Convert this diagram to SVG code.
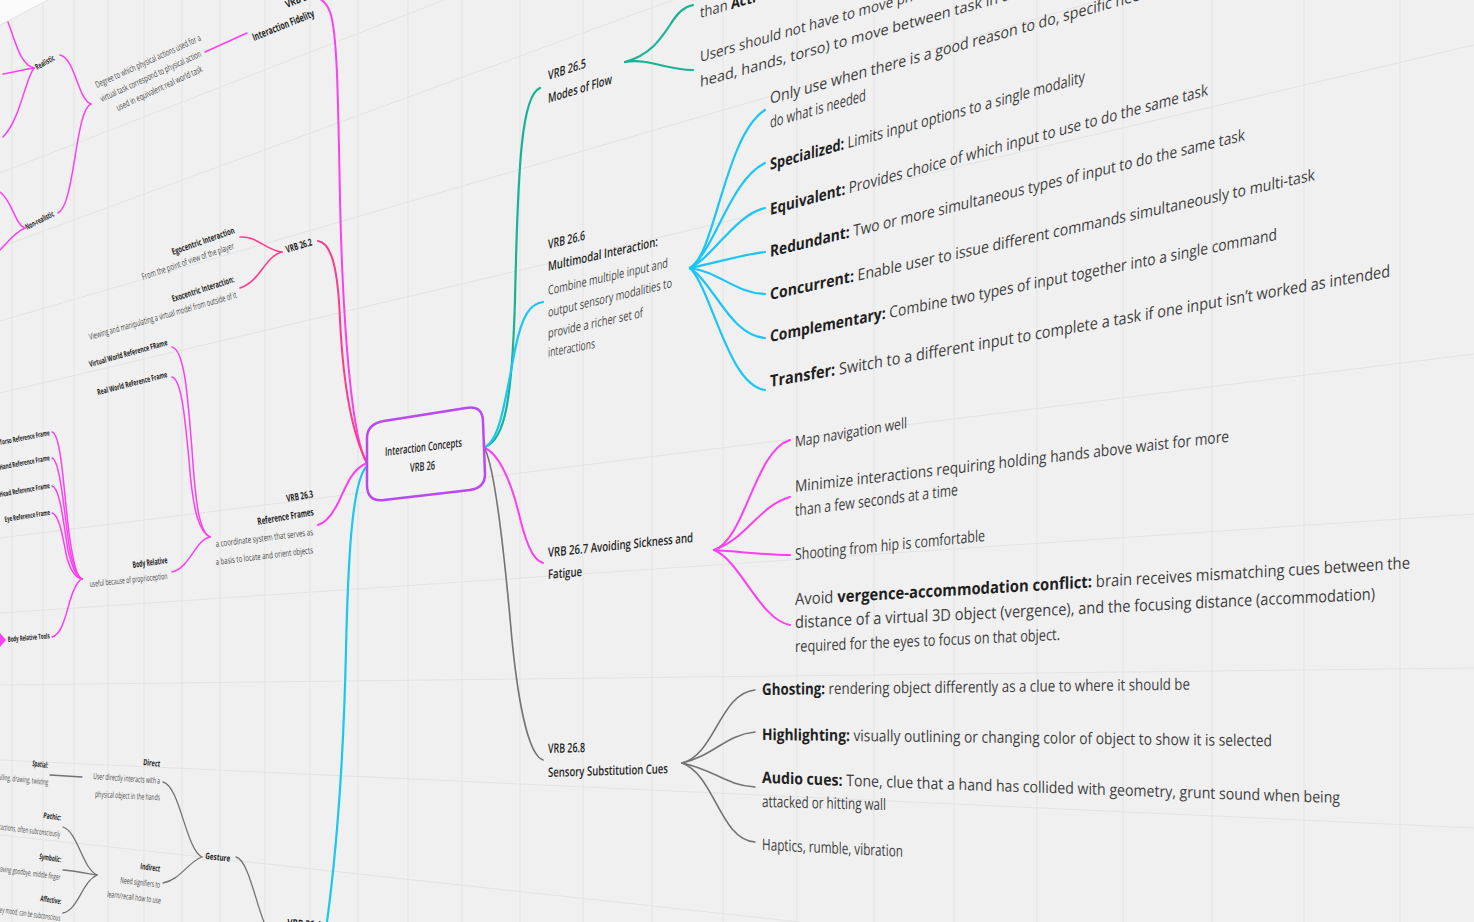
<svg xmlns="http://www.w3.org/2000/svg" width="1474" height="922" viewBox="0 0 1474 922">
<defs>
<style>
text{font-family:"Open Sans","Noto Sans","DejaVu Sans",sans-serif;fill:#3e3e3e}
.b{font-weight:700;fill:#1f1f1f}
.s{font-weight:600;fill:#262626}
.d{fill:#4a4a4a}
.c{fill:none;stroke-linecap:round;stroke-linejoin:round}
.teal{stroke:#17b394;stroke-width:2.2}
.cyan{stroke:#1cc6f2;stroke-width:2.2}
.mag{stroke:#fb40f0;stroke-width:2}
.magt{stroke:#fb40f0;stroke-width:1.5}
.pink{stroke:#ff3a8c;stroke-width:2}
.gry{stroke:#737373;stroke-width:1.6}
.gryt{stroke:#737373;stroke-width:1.3}
.grid{stroke:#e3e3e3;stroke-width:1;fill:none}
</style>
</defs>
<rect x="0" y="0" width="1474" height="922" fill="#f0f0f0"/>
<polygon points="0,0 48,0 0,25" fill="#fbfbfb"/>
<g id="grid" class="grid">
<path d="M12,19V922M43,3V922M74,0V922M108,0V922M144,0V922M182,0V922M220,0V922M265,0V922M310,0V922M358,0V922M408,0V922M462,0V922M520,0V922M583,0V922M652,0V922M723,0V922M797,0V922M874,0V922M954,0V922M1037,0V922M1123,0V922M1212,0V922M1304,0V922M1400,0V922"/>
<path d="M0,25L48,0M0,173L444,0M0,247L700,-10M0,321L1474,-109M0,393L1474,45M0,538L1474,354M0,613L1474,514M0,685L1474,668M0,760L1474,828M0,835L800,922"/>
</g>
<g id="connectors">
<path class="c teal" d="M485,447 C505,440 512,400 515,300 C518,160 522,95 540,88"/>
<path class="c cyan" d="M485,447 C500,440 505,400 515,350 C522,315 530,304 543,302"/>
<path class="c mag" d="M485,448 C500,455 510,480 518,510 C525,540 532,560 543,563"/>
<path class="c gry" d="M485,449 C495,470 505,560 512,640 C518,700 528,755 543,760"/>
<path class="c mag" d="M367,463 C352,440 343,330 340,200 C338,90 337,30 330,12 C327,4 323,0 318,-2"/>
<path class="c pink" d="M367,463 C350,430 343,380 340,320 C338,270 332,243 318,241"/>
<path class="c mag" d="M367,463 C350,470 345,490 338,503 C332,515 325,523 318,525"/>
<path class="c cyan" d="M367,466 C352,480 348,560 346,650 C344,740 338,840 327,922"/>
<path class="c teal" d="M625,62 C650,55 660,40 670,25 C678,12 684,7 693,5"/>
<path class="c teal" d="M625,62 C650,58 665,70 693,70"/>
<path class="c cyan" d="M690,268 C715,255 725,135 765,110"/>
<path class="c cyan" d="M690,268 C715,250 730,180 765,163"/>
<path class="c cyan" d="M690,268 C715,255 735,215 765,208"/>
<path class="c cyan" d="M690,268 C720,262 740,255 765,252"/>
<path class="c cyan" d="M690,268 C720,272 735,293 765,294"/>
<path class="c cyan" d="M690,268 C715,285 730,335 765,338"/>
<path class="c cyan" d="M690,268 C712,290 728,385 765,390"/>
<path class="c mag" d="M714,550 C745,540 755,450 790,440"/>
<path class="c mag" d="M714,550 C745,540 760,505 790,497"/>
<path class="c mag" d="M714,550 C745,552 765,555 790,555"/>
<path class="c mag" d="M714,550 C740,560 760,620 790,625"/>
<path class="c gry" d="M682,763 C715,755 720,693 755,690"/>
<path class="c gry" d="M682,763 C715,755 725,735 755,732"/>
<path class="c gry" d="M682,763 C715,770 725,785 755,787"/>
<path class="c gry" d="M682,763 C715,775 720,840 755,842"/>
<path class="c magt" d="M205,52 L247,33"/>
<path class="c magt" d="M60,55 C75,58 78,100 91,104"/>
<path class="c magt" d="M58,213 C75,205 75,110 91,104"/>
<path class="c magt" d="M8,22 C15,40 20,65 34,68"/>
<path class="c magt" d="M3,74 C15,72 25,69 34,68"/>
<path class="c magt" d="M3,137 C20,120 25,80 34,68"/>
<path class="c magt" d="M0,192 C12,200 15,225 25,228"/>
<path class="c magt" d="M25,228 C15,232 8,242 0,250"/>
<path class="c pink" style="stroke-width:1.6" d="M240,237 C258,236 265,250 282,252"/>
<path class="c pink" style="stroke-width:1.6" d="M240,288 C260,282 265,256 282,252"/>
<path class="c magt" d="M172,347 C185,350 188,400 192,450 C196,510 200,532 210,537"/>
<path class="c magt" d="M172,377 C182,380 185,420 189,460 C193,515 200,532 210,537"/>
<path class="c magt" d="M172,572 C190,568 195,540 210,537"/>
<path class="c magt" d="M52,432 C62,434 64,500 70,540 C74,565 77,577 82,579"/>
<path class="c magt" d="M52,458 C60,460 64,510 69,545 C73,567 77,577 82,579"/>
<path class="c magt" d="M52,486 C60,488 63,520 68,550 C72,568 77,577 82,579"/>
<path class="c magt" d="M52,513 C60,515 63,540 67,558 C71,572 77,578 82,579"/>
<path class="c magt" d="M52,637 C65,634 68,600 74,590 C77,583 79,580 82,579"/>
<path class="c gryt" d="M236,857 C248,860 255,900 264,922"/>
<path class="c gryt" d="M163,782 C180,786 186,850 202,857"/>
<path class="c gryt" d="M163,883 C180,880 188,862 202,857"/>
<path class="c gryt" d="M63,827 C78,832 82,868 97,875"/>
<path class="c gryt" d="M63,870 C75,871 85,873 97,875"/>
<path class="c gryt" d="M63,913 C78,910 82,882 97,875"/>
<path class="c gryt" d="M50,775 L82,777"/>
<polygon points="0,633 6,640 0,647" fill="#fb40f0"/>
</g>
<g id="node-center">
<path d="M384,421 L466,408 Q483,405 483,422 L485,474 Q485,488 470,490 L384,500 Q367,502 367,485 L367,438 Q367,424 384,421 Z" fill="#f2f2f2" stroke="#bb48f0" stroke-width="2.5"/>
<text class="s" font-size="12" transform="translate(385,456) skewY(-7)" textLength="77" lengthAdjust="spacingAndGlyphs">Interaction Concepts</text>
<text class="s" font-size="12" transform="translate(410,472) skewY(-6)" textLength="25" lengthAdjust="spacingAndGlyphs">VRB 26</text>
</g>
<g id="node-vrb-26-5">
<text class="s" font-size="13" transform="translate(548,80) skewY(-18)" textLength="38" lengthAdjust="spacingAndGlyphs">VRB 26.5</text>
<text class="s" font-size="13" transform="translate(548,103) skewY(-17)" textLength="64" lengthAdjust="spacingAndGlyphs">Modes of Flow</text>
<text font-size="15" transform="translate(700,18) skewY(-16)" textLength="56" lengthAdjust="spacingAndGlyphs">than <tspan class="b">Acti</tspan></text>
<text font-size="15" transform="translate(700,62) skewY(-16)" textLength="213" lengthAdjust="spacingAndGlyphs">Users should not have to move ph</text>
<text font-size="15" transform="translate(700,87) skewY(-15.7)" textLength="310" lengthAdjust="spacingAndGlyphs">head, hands, torso) to move between task in a</text>
</g>
<g id="node-vrb-26-6">
<text class="s" font-size="13" transform="translate(548,249) skewY(-14)" textLength="37" lengthAdjust="spacingAndGlyphs">VRB 26.6</text>
<text class="s" font-size="13" transform="translate(548,271) skewY(-12.8)" textLength="110" lengthAdjust="spacingAndGlyphs">Multimodal Interaction:</text>
<text class="d" font-size="13" transform="translate(548,295) skewY(-13)" textLength="120" lengthAdjust="spacingAndGlyphs">Combine multiple input and</text>
<text class="d" font-size="13" transform="translate(548,317) skewY(-13.5)" textLength="124" lengthAdjust="spacingAndGlyphs">output sensory modalities to</text>
<text class="d" font-size="13" transform="translate(548,338) skewY(-12.5)" textLength="95" lengthAdjust="spacingAndGlyphs">provide a richer set of</text>
<text class="d" font-size="13" transform="translate(548,357) skewY(-11)" textLength="47" lengthAdjust="spacingAndGlyphs">interactions</text>
<text font-size="16" transform="translate(770,104) skewY(-15.7)" textLength="370" lengthAdjust="spacingAndGlyphs">Only use when there is a good reason to do, specific nee</text>
<text font-size="16" transform="translate(770,128) skewY(-16)" textLength="96" lengthAdjust="spacingAndGlyphs">do what is needed</text>
<text font-size="16" transform="translate(770,170) skewY(-15.6)" textLength="315" lengthAdjust="spacingAndGlyphs"><tspan class="b">Specialized:</tspan> Limits input options to a single modality</text>
<text font-size="16" transform="translate(770,215) skewY(-15.3)" textLength="438" lengthAdjust="spacingAndGlyphs"><tspan class="b">Equivalent:</tspan> Provides choice of which input to use to do the same task</text>
<text font-size="16" transform="translate(770,257) skewY(-13.8)" textLength="475" lengthAdjust="spacingAndGlyphs"><tspan class="b">Redundant:</tspan> Two or more simultaneous types of input to do the same task</text>
<text font-size="16" transform="translate(770,300) skewY(-12.4)" textLength="545" lengthAdjust="spacingAndGlyphs"><tspan class="b">Concurrent:</tspan> Enable user to issue different commands simultaneously to multi-task</text>
<text font-size="16" transform="translate(770,342) skewY(-11.4)" textLength="507" lengthAdjust="spacingAndGlyphs"><tspan class="b">Complementary:</tspan> Combine two types of input together into a single command</text>
<text font-size="16.5" transform="translate(770,387) skewY(-10.1)" textLength="620" lengthAdjust="spacingAndGlyphs"><tspan class="b">Transfer:</tspan> Switch to a different input to complete a task if one input isn’t worked as intended</text>
</g>
<g id="node-vrb-26-7">
<text class="s" font-size="13" transform="translate(548,557) skewY(-5.9)" textLength="145" lengthAdjust="spacingAndGlyphs">VRB 26.7 Avoiding Sickness and</text>
<text class="s" font-size="13" transform="translate(548,579) skewY(-5)" textLength="34" lengthAdjust="spacingAndGlyphs">Fatigue</text>
<text font-size="15" transform="translate(795,447) skewY(-9.6)" textLength="112" lengthAdjust="spacingAndGlyphs">Map navigation well</text>
<text font-size="16" transform="translate(795,492) skewY(-6.6)" textLength="434" lengthAdjust="spacingAndGlyphs">Minimize interactions requiring holding hands above waist for more</text>
<text font-size="16" transform="translate(795,516) skewY(-7.3)" textLength="163" lengthAdjust="spacingAndGlyphs">than a few seconds at a time</text>
<text font-size="16" transform="translate(795,560) skewY(-5.7)" textLength="190" lengthAdjust="spacingAndGlyphs">Shooting from hip is comfortable</text>
<text font-size="16.5" transform="translate(795,605) skewY(-3.4)" textLength="615" lengthAdjust="spacingAndGlyphs">Avoid <tspan class="b">vergence-accommodation conflict:</tspan> brain receives mismatching cues between the</text>
<text font-size="16.5" transform="translate(795,628) skewY(-2.8)" textLength="580" lengthAdjust="spacingAndGlyphs">distance of a virtual 3D object (vergence), and the focusing distance (accommodation)</text>
<text font-size="16" transform="translate(795,652) skewY(-2.6)" textLength="265" lengthAdjust="spacingAndGlyphs">required for the eyes to focus on that object.</text>
</g>
<g id="node-vrb-26-8">
<text class="s" font-size="13" transform="translate(548,753) skewY(-1.5)" textLength="37" lengthAdjust="spacingAndGlyphs">VRB 26.8</text>
<text class="s" font-size="13" transform="translate(548,777) skewY(-1.8)" textLength="120" lengthAdjust="spacingAndGlyphs">Sensory Substitution Cues</text>
<text font-size="16" transform="translate(762,695) skewY(-0.7)" textLength="428" lengthAdjust="spacingAndGlyphs"><tspan class="b">Ghosting:</tspan> rendering object differently as a clue to where it should be</text>
<text font-size="16" transform="translate(762,740) skewY(0.7)" textLength="510" lengthAdjust="spacingAndGlyphs"><tspan class="b">Highlighting:</tspan> visually outlining or changing color of object to show it is selected</text>
<text font-size="16" transform="translate(762,783) skewY(2)" textLength="578" lengthAdjust="spacingAndGlyphs"><tspan class="b">Audio cues:</tspan> Tone, clue that a hand has collided with geometry, grunt sound when being</text>
<text font-size="16" transform="translate(762,807) skewY(1.4)" textLength="124" lengthAdjust="spacingAndGlyphs">attacked or hitting wall</text>
<text font-size="16" transform="translate(762,850) skewY(2.8)" textLength="141" lengthAdjust="spacingAndGlyphs">Haptics, rumble, vibration</text>
</g>
<g id="node-vrb-26-1">
<text class="b" font-size="10" transform="translate(287,8) rotate(-22)" textLength="34" lengthAdjust="spacingAndGlyphs">VRB 26.1</text>
<text class="b" font-size="10.5" transform="translate(254,41) rotate(-22)" textLength="66" lengthAdjust="spacingAndGlyphs">Interaction Fidelity</text>
<text class="d" font-size="9" transform="translate(97,88) rotate(-24.6)" textLength="115" lengthAdjust="spacingAndGlyphs">Degree to which physical actions used for a</text>
<text class="d" font-size="9" transform="translate(102,102) rotate(-24.7)" textLength="110" lengthAdjust="spacingAndGlyphs">virtual task correspond to physical action</text>
<text class="d" font-size="9" transform="translate(118,111) rotate(-25)" textLength="94" lengthAdjust="spacingAndGlyphs">used in equivalent real world task</text>
<text class="b" font-size="8" transform="translate(37,70) rotate(-29)" textLength="21" lengthAdjust="spacingAndGlyphs">Realistic</text>
<text class="b" font-size="8" transform="translate(27,230) rotate(-27)" textLength="31" lengthAdjust="spacingAndGlyphs">Non-realistic</text>
</g>
<g id="node-vrb-26-2">
<text class="b" font-size="10" transform="translate(287,253) rotate(-17)" textLength="27" lengthAdjust="spacingAndGlyphs">VRB 26.2</text>
<text class="b" font-size="9" transform="translate(173,255) rotate(-19.5)" textLength="66" lengthAdjust="spacingAndGlyphs">Egocentric Interaction</text>
<text class="d" font-size="9" transform="translate(143,280) rotate(-19)" textLength="97" lengthAdjust="spacingAndGlyphs">From the point of view of the player</text>
<text class="b" font-size="9" transform="translate(173,302) rotate(-18)" textLength="65" lengthAdjust="spacingAndGlyphs">Exocentric Interaction:</text>
<text class="d" font-size="9" transform="translate(90,340) rotate(-16)" textLength="153" lengthAdjust="spacingAndGlyphs">Viewing and manipulating  a virtual model from outside of it</text>
</g>
<g id="node-vrb-26-3">
<text class="b" font-size="10" transform="translate(287,502) rotate(-10)" textLength="27" lengthAdjust="spacingAndGlyphs">VRB 26.3</text>
<text class="b" font-size="10" transform="translate(258,525) rotate(-10)" textLength="57" lengthAdjust="spacingAndGlyphs">Reference Frames</text>
<text class="d" font-size="9" transform="translate(216,547) rotate(-7)" textLength="98" lengthAdjust="spacingAndGlyphs">a coordinate system that serves as</text>
<text class="d" font-size="9" transform="translate(216,565) rotate(-7)" textLength="98" lengthAdjust="spacingAndGlyphs">a basis to locate and orient objects</text>
<text class="b" font-size="8" transform="translate(90,367) rotate(-15.8)" textLength="81" lengthAdjust="spacingAndGlyphs">Virtual World Reference FRame</text>
<text class="b" font-size="8" transform="translate(98,395) rotate(-14.4)" textLength="72" lengthAdjust="spacingAndGlyphs">Real World Reference Frame</text>
<text class="b" font-size="9" transform="translate(133,568) rotate(-8)" textLength="35" lengthAdjust="spacingAndGlyphs">Body Relative</text>
<text class="d" font-size="8.5" transform="translate(90,587) rotate(-6)" textLength="78" lengthAdjust="spacingAndGlyphs">useful because of proprioception</text>
<text class="b" font-size="7.5" transform="translate(0,445) rotate(-11)" textLength="51" lengthAdjust="spacingAndGlyphs">Torso Reference Frame</text>
<text class="b" font-size="7.5" transform="translate(0,470) rotate(-11)" textLength="51" lengthAdjust="spacingAndGlyphs">Hand Reference Frame</text>
<text class="b" font-size="7.5" transform="translate(0,497) rotate(-10)" textLength="51" lengthAdjust="spacingAndGlyphs">Head Reference Frame</text>
<text class="b" font-size="7.5" transform="translate(5,522) rotate(-9)" textLength="46" lengthAdjust="spacingAndGlyphs">Eye Reference Frame</text>
<text class="b" font-size="7.5" transform="translate(8,642) rotate(-5)" textLength="42" lengthAdjust="spacingAndGlyphs">Body Relative Tools</text>
</g>
<g id="node-vrb-26-4">
<text class="b" font-size="10" transform="translate(287,926) rotate(4)" textLength="34" lengthAdjust="spacingAndGlyphs">VRB 26.4</text>
<text class="b" font-size="9" transform="translate(205,859) rotate(6)" textLength="25" lengthAdjust="spacingAndGlyphs">Gesture</text>
<text class="b" font-size="8.5" transform="translate(143,765) rotate(6)" textLength="17" lengthAdjust="spacingAndGlyphs">Direct</text>
<text class="d" font-size="8.5" transform="translate(93,779) rotate(4)" textLength="67" lengthAdjust="spacingAndGlyphs">User directly interacts with a</text>
<text class="d" font-size="8.5" transform="translate(95,797) rotate(3)" textLength="65" lengthAdjust="spacingAndGlyphs">physical object in the hands</text>
<text class="b" font-size="8.5" transform="translate(140,869) rotate(8)" textLength="20" lengthAdjust="spacingAndGlyphs">Indirect</text>
<text class="d" font-size="8.5" transform="translate(120,883) rotate(7)" textLength="40" lengthAdjust="spacingAndGlyphs">Need signifiers to</text>
<text class="d" font-size="8.5" transform="translate(107,897) rotate(7)" textLength="54" lengthAdjust="spacingAndGlyphs">learn/recall how to use</text>
<text class="b" font-size="8" transform="translate(32,766) rotate(8)" textLength="16" lengthAdjust="spacingAndGlyphs">Spatial:</text>
<text class="d" font-size="8" text-anchor="end" transform="translate(48,785) rotate(6)" textLength="50" lengthAdjust="spacingAndGlyphs">ulling, drawing, twisting</text>
<text class="b" font-size="8" transform="translate(43,818) rotate(8)" textLength="18" lengthAdjust="spacingAndGlyphs">Pathic:</text>
<text class="d" font-size="8" text-anchor="end" transform="translate(60,837) rotate(7)" textLength="62" lengthAdjust="spacingAndGlyphs">ractions, often subconsciously</text>
<text class="b" font-size="8" transform="translate(39,859) rotate(9)" textLength="22" lengthAdjust="spacingAndGlyphs">Symbolic:</text>
<text class="d" font-size="8" text-anchor="end" transform="translate(60,880) rotate(8)" textLength="64" lengthAdjust="spacingAndGlyphs">waving goodbye, middle finger</text>
<text class="b" font-size="8" transform="translate(40,901) rotate(9)" textLength="21" lengthAdjust="spacingAndGlyphs">Affective:</text>
<text class="d" font-size="8" text-anchor="end" transform="translate(60,921) rotate(8)" textLength="61" lengthAdjust="spacingAndGlyphs">ey mood, can be subconscious</text>
</g>
</svg>
